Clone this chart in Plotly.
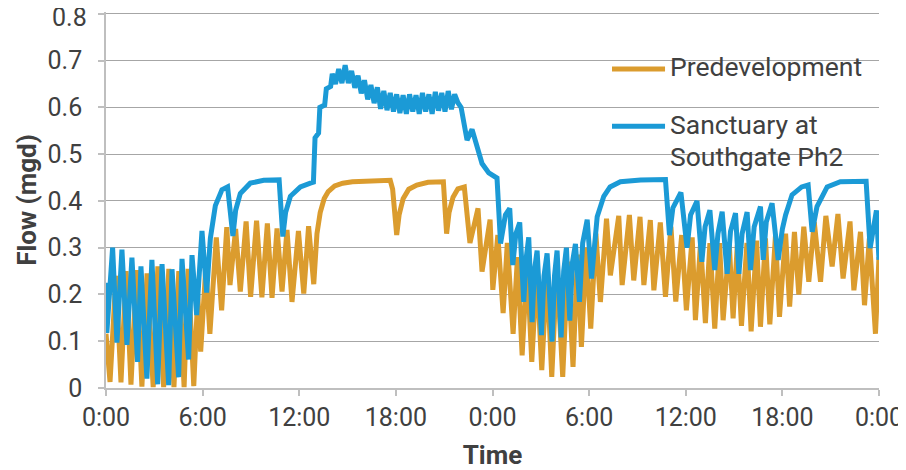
import plotly.graph_objects as go

# ---------------- data (hours since start, flow in mgd) ----------------
pre_t = [0.0, 0.25, 0.62, 0.93, 1.25, 1.55, 1.9, 2.23, 2.55, 2.93, 3.22, 3.58, 3.9, 4.22, 4.52, 4.85,
         5.1, 5.45, 5.7, 5.88, 6.2, 6.45, 6.85, 7.18, 7.5, 7.7, 8.05, 8.34, 8.7, 8.98, 9.35, 9.68,
         10.02, 10.31, 10.62, 10.93, 11.24, 11.55, 11.95, 12.28, 12.58, 12.9,
         13.1, 13.3, 13.55, 13.8, 14.2, 14.7, 15.3, 16.5, 17.65, 17.8, 18.05, 18.2, 18.45, 18.8,
         19.3, 20.0, 20.95, 21.15, 21.3, 21.55, 21.85, 22.25, 22.6, 23.1, 23.35, 23.85, 24.02,
         24.33, 24.66, 24.92, 25.28, 25.55, 25.84, 26.15, 26.44, 26.75, 27.06, 27.38, 27.68,
         28.0, 28.36, 28.68, 29.0, 29.28, 29.52, 29.82, 30.1, 30.42, 30.7, 31.08, 31.32, 31.84,
         32.05, 32.5, 32.77, 33.16, 33.4, 33.8, 34.02, 34.42, 34.74, 35.08, 35.38, 35.75, 36.04,
         36.4, 36.6, 36.92, 37.22, 37.5, 37.8, 38.1, 38.32, 38.7, 38.94, 39.2, 39.46, 39.8, 40.06,
         40.4, 40.64, 40.95, 41.22, 41.57, 41.82, 42.2, 42.45, 42.75, 43.02, 43.33, 43.64, 43.98,
         44.37, 44.7, 45.09, 45.45, 45.77, 46.2, 46.44, 46.85, 47.1, 47.4, 47.78, 48.0]
pre_v = [0.116, 0.013, 0.24, 0.012, 0.25, 0.007, 0.252, 0.003, 0.245, 0.002, 0.26, 0.002, 0.255, 0.002, 0.25, 0.002,
         0.255, 0.004, 0.2, 0.078, 0.26, 0.116, 0.322, 0.166, 0.344, 0.22, 0.34, 0.206, 0.356, 0.195, 0.358, 0.194,
         0.352, 0.193, 0.341, 0.206, 0.338, 0.184, 0.336, 0.202, 0.346, 0.222,
         0.33, 0.375, 0.405, 0.42, 0.432, 0.438, 0.441, 0.443, 0.444, 0.425, 0.327, 0.37, 0.405, 0.425,
         0.434, 0.44, 0.441, 0.33, 0.375, 0.408, 0.426, 0.43, 0.31, 0.384, 0.249, 0.36, 0.21,
         0.327, 0.16, 0.31, 0.116, 0.28, 0.07, 0.265, 0.056, 0.255, 0.038, 0.255, 0.024,
         0.26, 0.024, 0.27, 0.045, 0.285, 0.088, 0.3, 0.127, 0.33, 0.184, 0.362, 0.241, 0.368,
         0.22, 0.37, 0.23, 0.366, 0.22, 0.359, 0.209, 0.354, 0.195, 0.345, 0.185, 0.327, 0.166,
         0.322, 0.145, 0.31, 0.139, 0.31, 0.127, 0.31, 0.145, 0.31, 0.149, 0.305, 0.133, 0.31, 0.121,
         0.315, 0.131, 0.32, 0.136, 0.325, 0.152, 0.33, 0.174, 0.334, 0.2, 0.345, 0.227, 0.355,
         0.227, 0.368, 0.26, 0.372, 0.234, 0.356, 0.209, 0.334, 0.177, 0.32, 0.116, 0.28]

sanc_t = [0.0, 0.05, 0.41, 0.68, 0.99, 1.30, 1.61, 1.96, 2.17, 2.54, 2.85, 3.21, 3.48, 3.89, 4.10, 4.51,
          4.72, 5.13, 5.34, 5.63, 5.96, 6.25, 6.48, 6.79, 7.2, 7.55, 7.88, 8.05, 8.34, 8.96, 9.79,
          10.75, 10.98, 11.15, 11.45, 12.07, 12.69, 12.88, 12.98, 13.2, 13.28, 13.58, 13.68, 13.95,
          14.05, 14.25, 14.45, 14.65, 14.85, 15.05, 15.25, 15.45, 15.65, 15.85, 16.05, 16.25, 16.45,
          16.65, 16.85, 17.05, 17.25, 17.45, 17.65, 17.85, 18.05, 18.25, 18.45, 18.65, 18.85, 19.05,
          19.25, 19.45, 19.65, 19.85, 20.05, 20.25, 20.45, 20.65, 20.85, 21.05, 21.25, 21.45, 21.65,
          21.85, 22.05, 22.42, 22.73, 23.04, 23.35, 23.77, 24.28, 24.5, 24.8, 25.07, 25.26, 25.45,
          25.69, 25.94, 26.1, 26.25, 26.46, 26.6, 26.77, 27.04, 27.2, 27.39, 27.7, 27.85, 28.01,
          28.26, 28.42, 28.59, 28.8, 28.97, 29.15, 29.4, 29.6, 29.88, 30.15, 30.5, 30.91, 31.3,
          31.94, 33.2, 34.74, 34.99, 35.2, 35.7, 36.08, 36.3, 36.7, 37.0, 37.2, 37.5, 37.8, 38.0,
          38.26, 38.57, 38.78, 39.09, 39.3, 39.5, 39.81, 40.02, 40.25, 40.64, 40.81, 41.0, 41.36,
          41.74, 42.0, 42.2, 42.6, 43.2, 43.6, 43.85, 44.15, 44.78, 45.6, 47.2, 47.45, 47.84, 48.0]
sanc_v = [0.225, 0.118, 0.30, 0.097, 0.296, 0.092, 0.279, 0.056, 0.26, 0.02, 0.274, 0.008, 0.265, 0.006, 0.254, 0.023,
          0.276, 0.061, 0.284, 0.156, 0.336, 0.204, 0.32, 0.39, 0.424, 0.43, 0.325, 0.38, 0.416, 0.438, 0.444,
          0.445, 0.324, 0.375, 0.41, 0.43, 0.438, 0.44, 0.535, 0.545, 0.60, 0.605, 0.64, 0.645,
          0.672, 0.65, 0.682, 0.652, 0.69, 0.652, 0.678, 0.642, 0.668, 0.63, 0.658, 0.617, 0.648,
          0.609, 0.643, 0.597, 0.635, 0.594, 0.631, 0.591, 0.628, 0.588, 0.626, 0.586, 0.628, 0.591,
          0.626, 0.586, 0.631, 0.591, 0.628, 0.586, 0.633, 0.593, 0.631, 0.591, 0.635, 0.596, 0.628,
          0.61, 0.60, 0.53, 0.553, 0.513, 0.48, 0.46, 0.449, 0.309, 0.37, 0.384, 0.263, 0.33,
          0.354, 0.184, 0.28, 0.322, 0.141, 0.25, 0.294, 0.113, 0.24, 0.288, 0.099, 0.24, 0.294,
          0.108, 0.25, 0.30, 0.144, 0.27, 0.308, 0.184, 0.31, 0.36, 0.234, 0.366, 0.41, 0.43,
          0.441, 0.445, 0.446, 0.327, 0.385, 0.418, 0.30, 0.37, 0.40, 0.27, 0.345, 0.38, 0.252, 0.33,
          0.377, 0.244, 0.335, 0.374, 0.244, 0.33, 0.376, 0.252, 0.345, 0.388, 0.274, 0.355, 0.395,
          0.274, 0.34, 0.37, 0.413, 0.43, 0.434, 0.334, 0.388, 0.43, 0.441, 0.442, 0.299, 0.38, 0.274]

series_names = ["Predevelopment", "Sanctuary at Southgate Ph2"]
legend_lines = [["Predevelopment"], ["Sanctuary at", "Southgate Ph2"]]
x_tick_vals = [0, 6, 12, 18, 24, 30, 36, 42, 48]
x_tick_text = ["0:00", "6:00", "12:00", "18:00", "0:00", "6:00", "12:00", "18:00", "0:00"]
y_tick_vals = [0, 0.1, 0.2, 0.3, 0.4, 0.5, 0.6, 0.7, 0.8]
y_tick_text = ["0", "0.1", "0.2", "0.3", "0.4", "0.5", "0.6", "0.7", "0.8"]

ORANGE = "#DB9C2E"
BLUE = "#1B9AD6"
TXT = "#404040"
FONT = "Roboto"

fig = go.Figure()
fig.add_trace(go.Scatter(x=pre_t, y=pre_v, mode="lines", name=series_names[0],
                         line=dict(color=ORANGE, width=5), showlegend=False))
fig.add_trace(go.Scatter(x=sanc_t, y=sanc_v, mode="lines", name=series_names[1],
                         line=dict(color=BLUE, width=5), showlegend=False))

# manual legend (paper coordinates)
leg = [(ORANGE, 0.8484, [(legend_lines[0][0], 0.8543)]),
       (BLUE, 0.6963, [(legend_lines[1][0], 0.7008), (legend_lines[1][1], 0.6168)])]
for col, ly, texts in leg:
    fig.add_shape(type="line", xref="paper", yref="paper", x0=0.6546, x1=0.7232, y0=ly, y1=ly,
                  line=dict(color=col, width=5))
    for t, ty in texts:
        fig.add_annotation(xref="paper", yref="paper", x=0.727, y=ty, text=t, showarrow=False,
                           xanchor="left", yanchor="middle", font=dict(family=FONT, size=26.5, color=TXT))

# the top tick label sits at the very edge of the page, so it is drawn a few px lower
# as a text annotation to stay fully visible (the tick label itself is left blank)
shown_y_text = y_tick_text[:-1] + [""]
fig.add_annotation(xref="paper", yref="y", x=0, y=y_tick_vals[-1], text=y_tick_text[-1],
                   showarrow=False, xanchor="right", yanchor="middle", xshift=-17, yshift=-3.5,
                   font=dict(family=FONT, size=25, color=TXT))

# page body has an 8px margin, so the figure is 8px smaller than the window
fig.update_layout(
    width=898, height=462,
    margin=dict(l=98, r=27, t=4.13, b=82),
    paper_bgcolor="white", plot_bgcolor="white",
    font=dict(family=FONT, size=25, color=TXT),
)
fig.update_xaxes(range=[0, 48], tickvals=x_tick_vals, ticktext=x_tick_text,
                 showgrid=False, showline=True, linecolor="#BFBFBF", linewidth=1.5,
                 ticks="outside", ticklen=6, tickcolor="#BFBFBF", tickwidth=1.5,
                 ticklabelstandoff=0, automargin=False, ticklabeloverflow="allow",
                 tickfont=dict(family=FONT, size=25, color=TXT),
                 title=dict(text="<b>Time</b>", standoff=15, font=dict(family=FONT, size=26, color=TXT)),
                 zeroline=False)
fig.update_yaxes(range=[0, 0.804], tickvals=y_tick_vals, ticktext=shown_y_text,
                 showgrid=True, gridcolor="#A6A6A6", gridwidth=1.3,
                 showline=True, linecolor="#BFBFBF", linewidth=1.5,
                 ticks="outside", ticklen=6, tickcolor="#BFBFBF", tickwidth=1.5,
                 ticklabelstandoff=11, automargin=False, ticklabeloverflow="allow",
                 tickfont=dict(family=FONT, size=25, color=TXT),
                 title=dict(text="<b>Flow (mgd)</b>", standoff=3, font=dict(family=FONT, size=26, color=TXT)),
                 zeroline=False)

fig.write_html("out.html")
